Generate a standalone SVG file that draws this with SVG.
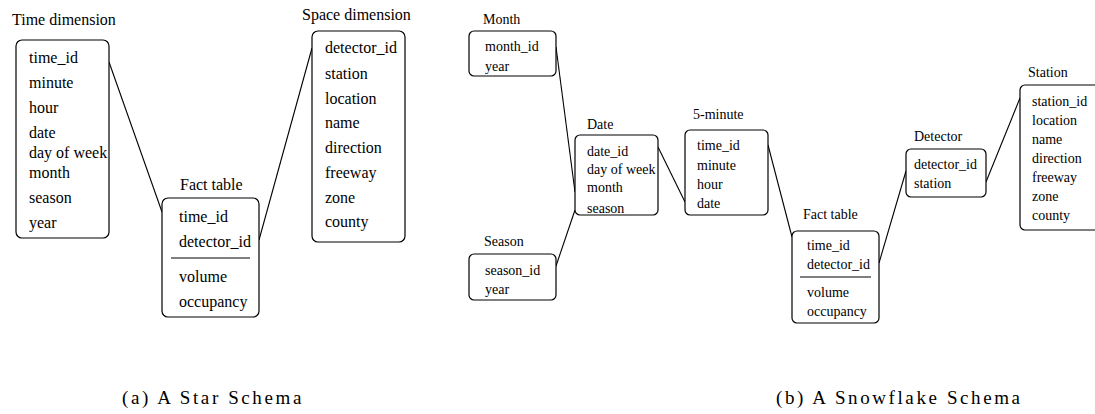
<svg xmlns="http://www.w3.org/2000/svg" width="1095" height="414" viewBox="0 0 1095 414">
<style>
.box{fill:#fff;stroke:#000;stroke-width:1.2}
.t{font-family:"Liberation Serif","Times New Roman",serif;fill:#000}
.a{font-size:16px}
.b{font-size:14px}
.cap{font-family:"Liberation Serif","Times New Roman",serif;font-size:19px;letter-spacing:2.6px;fill:#000}
.ln{stroke:#000;stroke-width:1.1;fill:none}
</style>
<rect width="1095" height="414" fill="#fff"/>
<g id="connectors">
<line class="ln" x1="109" y1="62" x2="162" y2="212"/>
<line class="ln" x1="259" y1="240" x2="312" y2="48"/>
<line class="ln" x1="556" y1="47" x2="575" y2="192"/>
<line class="ln" x1="556" y1="266" x2="575" y2="210"/>
<line class="ln" x1="658" y1="147" x2="685" y2="202"/>
<line class="ln" x1="768" y1="145" x2="792" y2="237"/>
<line class="ln" x1="879" y1="263" x2="906" y2="171"/>
<line class="ln" x1="986" y1="182" x2="1020" y2="98"/>
</g>
<g id="time-dimension" class="t a">
<text x="12" y="25">Time dimension</text>
<rect class="box" x="16" y="40" width="93" height="198" rx="6"/>
<text x="29" y="63">time_id</text>
<text x="29" y="88">minute</text>
<text x="29" y="113">hour</text>
<text x="29" y="138">date</text>
<text x="29" y="158">day of week</text>
<text x="29" y="178">month</text>
<text x="29" y="203">season</text>
<text x="29" y="228">year</text>
</g>
<g id="fact-table-star" class="t a">
<text x="180" y="190">Fact table</text>
<rect class="box" x="162" y="198" width="97" height="119" rx="6"/>
<text x="179" y="222">time_id</text>
<text x="179" y="247">detector_id</text>
<line class="ln" x1="171" y1="258" x2="250" y2="258"/>
<text x="179" y="282">volume</text>
<text x="179" y="307">occupancy</text>
</g>
<g id="space-dimension" class="t a">
<text x="302" y="20">Space dimension</text>
<rect class="box" x="312" y="31" width="93" height="211" rx="6"/>
<text x="325" y="53">detector_id</text>
<text x="325" y="79">station</text>
<text x="325" y="104">location</text>
<text x="325" y="128">name</text>
<text x="325" y="153">direction</text>
<text x="325" y="178">freeway</text>
<text x="325" y="203">zone</text>
<text x="325" y="227">county</text>
</g>
<g id="month" class="t b">
<text x="483" y="24">Month</text>
<rect class="box" x="469" y="31" width="87" height="45" rx="5"/>
<text x="485" y="51">month_id</text>
<text x="485" y="71">year</text>
</g>
<g id="season" class="t b">
<text x="484" y="246">Season</text>
<rect class="box" x="469" y="254" width="87" height="46" rx="5"/>
<text x="485" y="275">season_id</text>
<text x="485" y="294">year</text>
</g>
<g id="date" class="t b">
<text x="587" y="129">Date</text>
<rect class="box" x="575" y="135" width="83" height="80" rx="5"/>
<text x="587" y="156">date_id</text>
<text x="587" y="174">day of week</text>
<text x="587" y="192">month</text>
<text x="587" y="213">season</text>
</g>
<g id="five-minute" class="t b">
<text x="693" y="119">5-minute</text>
<rect class="box" x="685" y="130" width="83" height="85" rx="5"/>
<text x="697" y="150">time_id</text>
<text x="697" y="170">minute</text>
<text x="697" y="189">hour</text>
<text x="697" y="208">date</text>
</g>
<g id="fact-table-snow" class="t b">
<text x="803" y="219">Fact table</text>
<rect class="box" x="792" y="231" width="87" height="92" rx="5"/>
<text x="807" y="250">time_id</text>
<text x="807" y="269">detector_id</text>
<line class="ln" x1="800" y1="277" x2="871" y2="277"/>
<text x="807" y="297">volume</text>
<text x="807" y="316">occupancy</text>
</g>
<g id="detector" class="t b">
<text x="914" y="141">Detector</text>
<rect class="box" x="906" y="149" width="80" height="48" rx="5"/>
<text x="914" y="169">detector_id</text>
<text x="914" y="188">station</text>
</g>
<g id="station" class="t b">
<text x="1028" y="77">Station</text>
<rect class="box" x="1020" y="85" width="90" height="145" rx="5"/>
<text x="1032" y="106">station_id</text>
<text x="1032" y="125">location</text>
<text x="1032" y="144">name</text>
<text x="1032" y="163">direction</text>
<text x="1032" y="182">freeway</text>
<text x="1032" y="201">zone</text>
<text x="1032" y="220">county</text>
</g>
<text class="cap" x="122" y="404">(a) A Star Schema</text>
<text class="cap" x="776" y="404">(b) A Snowflake Schema</text>
</svg>
